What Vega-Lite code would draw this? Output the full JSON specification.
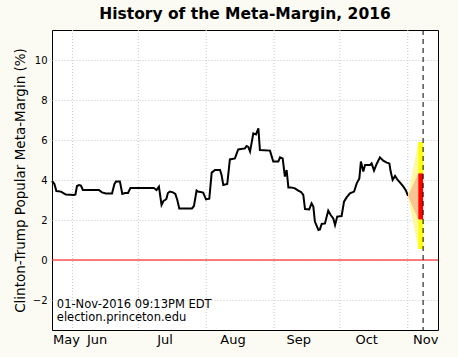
{
  "$schema": "https://vega.github.io/schema/vega-lite/v6.json",
  "width": 386,
  "height": 300,
  "autosize": {"type": "none"},
  "padding": {"left": 52, "top": 30, "right": 20, "bottom": 27},
  "background": "#fbfbf3",
  "title": {"text": "History of the Meta-Margin, 2016", "fontSize": 15.5, "fontWeight": "bold", "font": "DejaVu Sans", "color": "black", "offset": 7},
  "config": {
    "view": {"stroke": "black", "strokeWidth": 1, "fill": "white"},
    "font": "DejaVu Sans"
  },
  "datasets": {
    "history": [
      {"day": 143.6, "margin": 3.95}, {"day": 144.7, "margin": 3.8}, {"day": 145.6, "margin": 3.45},
      {"day": 147.7, "margin": 3.42}, {"day": 149.0, "margin": 3.33}, {"day": 149.9, "margin": 3.28},
      {"day": 153.6, "margin": 3.25}, {"day": 154.3, "margin": 3.28}, {"day": 155.0, "margin": 3.7},
      {"day": 155.9, "margin": 3.75}, {"day": 156.8, "margin": 3.72}, {"day": 157.7, "margin": 3.5},
      {"day": 165.0, "margin": 3.5}, {"day": 166.4, "margin": 3.38}, {"day": 168.2, "margin": 3.33},
      {"day": 171.0, "margin": 3.33}, {"day": 172.1, "margin": 3.8}, {"day": 172.8, "margin": 3.92},
      {"day": 174.6, "margin": 3.92}, {"day": 175.7, "margin": 3.3}, {"day": 176.9, "margin": 3.35},
      {"day": 178.3, "margin": 3.35}, {"day": 179.4, "margin": 3.6}, {"day": 190.1, "margin": 3.6},
      {"day": 191.3, "margin": 3.5}, {"day": 192.4, "margin": 3.67}, {"day": 193.6, "margin": 2.75},
      {"day": 194.5, "margin": 2.95}, {"day": 195.2, "margin": 3.0}, {"day": 195.8, "margin": 3.05},
      {"day": 196.5, "margin": 3.35}, {"day": 197.4, "margin": 3.42}, {"day": 198.8, "margin": 3.38},
      {"day": 199.9, "margin": 3.3}, {"day": 200.8, "margin": 3.0}, {"day": 201.7, "margin": 2.58},
      {"day": 207.5, "margin": 2.58}, {"day": 208.4, "margin": 2.7}, {"day": 209.6, "margin": 3.47},
      {"day": 210.2, "margin": 3.42}, {"day": 212.6, "margin": 3.37}, {"day": 213.9, "margin": 3.03},
      {"day": 215.4, "margin": 3.07}, {"day": 216.5, "margin": 4.37}, {"day": 218.0, "margin": 4.5},
      {"day": 220.3, "margin": 4.5}, {"day": 221.0, "margin": 4.25}, {"day": 221.8, "margin": 3.75},
      {"day": 223.6, "margin": 3.8}, {"day": 224.8, "margin": 5.03}, {"day": 227.1, "margin": 5.08},
      {"day": 228.6, "margin": 5.53}, {"day": 231.7, "margin": 5.58}, {"day": 232.4, "margin": 5.7},
      {"day": 233.2, "margin": 5.65}, {"day": 234.0, "margin": 5.42}, {"day": 235.5, "margin": 6.33},
      {"day": 236.7, "margin": 6.28}, {"day": 237.8, "margin": 6.58}, {"day": 238.5, "margin": 5.5},
      {"day": 243.1, "margin": 5.47}, {"day": 244.6, "margin": 4.92}, {"day": 246.9, "margin": 4.92},
      {"day": 247.7, "margin": 5.13}, {"day": 248.9, "margin": 5.08}, {"day": 249.9, "margin": 4.17},
      {"day": 250.7, "margin": 4.5}, {"day": 251.5, "margin": 3.63}, {"day": 252.6, "margin": 3.63},
      {"day": 254.5, "margin": 3.58}, {"day": 256.0, "margin": 3.47}, {"day": 257.3, "margin": 3.4},
      {"day": 258.3, "margin": 3.25}, {"day": 259.1, "margin": 2.55}, {"day": 261.0, "margin": 2.53},
      {"day": 262.1, "margin": 2.83}, {"day": 262.9, "margin": 2.67}, {"day": 263.6, "margin": 1.92},
      {"day": 265.2, "margin": 1.5}, {"day": 265.9, "margin": 1.53}, {"day": 266.7, "margin": 1.8},
      {"day": 268.2, "margin": 1.83}, {"day": 269.7, "margin": 2.47}, {"day": 270.8, "margin": 2.25},
      {"day": 272.0, "margin": 2.08}, {"day": 272.8, "margin": 1.75}, {"day": 273.8, "margin": 2.17},
      {"day": 275.8, "margin": 2.2}, {"day": 276.9, "margin": 2.92}, {"day": 278.1, "margin": 3.13},
      {"day": 279.6, "margin": 3.33}, {"day": 281.5, "margin": 3.42}, {"day": 282.7, "margin": 3.83},
      {"day": 283.9, "margin": 4.08}, {"day": 284.6, "margin": 4.92}, {"day": 285.7, "margin": 4.42},
      {"day": 286.5, "margin": 4.75}, {"day": 288.8, "margin": 4.75}, {"day": 289.5, "margin": 4.83},
      {"day": 290.6, "margin": 4.47}, {"day": 291.8, "margin": 4.8}, {"day": 293.3, "margin": 5.13},
      {"day": 294.8, "margin": 4.97}, {"day": 296.4, "margin": 4.87}, {"day": 297.6, "margin": 4.83},
      {"day": 298.2, "margin": 4.42}, {"day": 299.1, "margin": 4.0}, {"day": 300.2, "margin": 4.2},
      {"day": 301.2, "margin": 4.03}, {"day": 302.5, "margin": 3.87}, {"day": 304.0, "margin": 3.67},
      {"day": 305.2, "margin": 3.47}, {"day": 306.1, "margin": 3.2}
    ],
    "fan": [
      {"band": "wide", "day": 306.1, "lo": 3.2, "hi": 3.2},
      {"band": "wide", "day": 310.8, "lo": 0.55, "hi": 5.9},
      {"band": "narrow", "day": 306.1, "lo": 3.2, "hi": 3.2},
      {"band": "narrow", "day": 310.8, "lo": 2.03, "hi": 4.33}
    ],
    "forecast": [
      {"band": "wide", "start": 310.8, "end": 313, "lo": 0.55, "hi": 5.9},
      {"band": "narrow", "start": 310.8, "end": 313, "lo": 2.03, "hi": 4.33}
    ],
    "months": [
      {"day": 153}, {"day": 183}, {"day": 214}, {"day": 245}, {"day": 275}, {"day": 306}
    ],
    "notes": [
      {"day": 145.8, "y": -2.42, "note": "01-Nov-2016 09:13PM EDT"},
      {"day": 145.8, "y": -3.07, "note": "election.princeton.edu"}
    ]
  },
  "encoding": {
    "x": {
      "field": "day", "type": "quantitative",
      "scale": {"domain": [143.6, 319.8], "nice": false, "zero": false},
      "axis": {
        "title": null, "values": [150, 164, 195, 226, 256, 287, 314],
        "labelExpr": "datum.value < 157 ? 'May' : datum.value < 180 ? 'Jun' : datum.value < 210 ? 'Jul' : datum.value < 240 ? 'Aug' : datum.value < 270 ? 'Sep' : datum.value < 300 ? 'Oct' : 'Nov'",
        "grid": false, "ticks": false, "domain": false, "labelFontSize": 13, "labelColor": "black",
        "labelPadding": 3, "labelOverlap": false, "labelFlush": false, "labelFont": "DejaVu Sans"
      }
    }
  },
  "layer": [
    {
      "data": {"name": "months"},
      "mark": {"type": "rule", "stroke": "#c8c8c8", "strokeDash": [1, 2], "strokeWidth": 1},
      "encoding": {}
    },
    {
      "data": {"name": "history"},
      "mark": {"type": "line", "color": "black", "strokeWidth": 2},
      "encoding": {
        "y": {
          "field": "margin", "type": "quantitative",
          "scale": {"domain": [-3.5, 11.5], "nice": false, "zero": false},
          "axis": {
            "title": "Clinton-Trump Popular Meta-Margin (%)", "values": [-2, 0, 2, 4, 6, 8, 10],
            "grid": true, "gridDash": [1, 2], "gridColor": "#c8c8c8", "ticks": false, "domain": false,
            "labelFontSize": 10, "labelColor": "black", "labelPadding": 5, "labelFont": "DejaVu Sans",
            "titleFontSize": 13.5, "titleFontWeight": "normal", "titleColor": "black", "titleFont": "DejaVu Sans",
            "titlePadding": 5
          }
        }
      }
    },
    {
      "data": {"values": [{"level": 0}]},
      "mark": {"type": "rule", "stroke": "red", "strokeWidth": 1},
      "encoding": {"x": null, "y": {"field": "level", "type": "quantitative"}}
    },
    {
      "data": {"name": "fan"},
      "mark": {"type": "area", "opacity": 1},
      "encoding": {
        "y": {"field": "lo", "type": "quantitative"},
        "y2": {"field": "hi"},
        "color": {"field": "band", "type": "nominal", "scale": {"domain": ["wide", "narrow"], "range": ["#fff9a6", "#f8c493"]}, "legend": null},
        "order": {"field": "band", "sort": "descending"}
      }
    },
    {
      "data": {"name": "forecast"},
      "mark": {"type": "rect"},
      "encoding": {
        "x": {"field": "start", "type": "quantitative"},
        "x2": {"field": "end"},
        "y": {"field": "lo", "type": "quantitative"},
        "y2": {"field": "hi"},
        "color": {"field": "band", "type": "nominal", "scale": {"domain": ["wide", "narrow"], "range": ["#ffff00", "#ff0000"]}, "legend": null}
      }
    },
    {
      "data": {"values": [{"election": 313}]},
      "mark": {"type": "rule", "stroke": "black", "strokeWidth": 1, "strokeDash": [5, 4]},
      "encoding": {"x": {"field": "election", "type": "quantitative"}}
    },
    {
      "data": {"name": "notes"},
      "mark": {"type": "text", "align": "left", "baseline": "alphabetic", "fontSize": 11.5, "font": "DejaVu Sans", "color": "black"},
      "encoding": {
        "y": {"field": "y", "type": "quantitative"},
        "text": {"field": "note"}
      }
    }
  ],
  "resolve": {"scale": {"color": "independent"}}
}
